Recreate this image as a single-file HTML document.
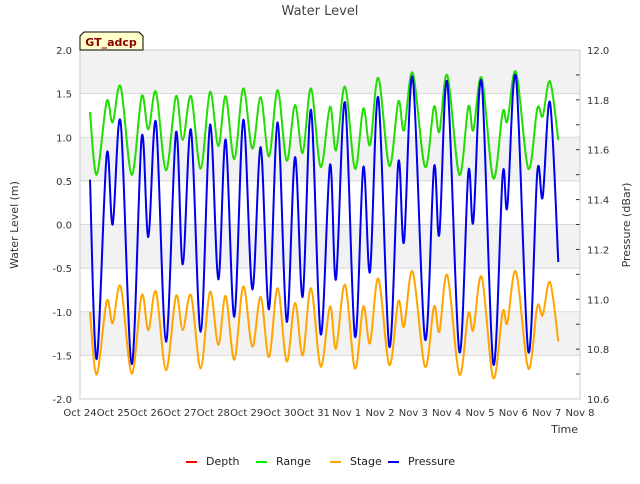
<!DOCTYPE html>
<html><head><meta charset="utf-8"><style>
body{margin:0;background:#fff;font-family:"DejaVu Sans","Liberation Sans",sans-serif}
svg text{font-family:"DejaVu Sans","Liberation Sans",sans-serif}
</style></head><body>
<svg id="chart" width="640" height="480" xmlns="http://www.w3.org/2000/svg">
<text x="320" y="15" text-anchor="middle" font-size="13" fill="#444">Water Level</text>
<g id="bands"></g>
<g id="axes"></g>
<g id="series"></g>
<g>
<path d="M80,50 L80,36 L84,32 L139,32 L143,36 L143,50 Z" fill="#ffffcc" stroke="#000" stroke-width="1"/>
<text x="111" y="46" text-anchor="middle" font-size="11" font-weight="bold" fill="#8b0000">GT_adcp</text>
</g>
<text transform="translate(18,225) rotate(-90)" text-anchor="middle" font-size="11" fill="#333">Water Level (m)</text>
<text transform="translate(630,225) rotate(-90)" text-anchor="middle" font-size="11" fill="#333">Pressure (dBar)</text>
<text x="578" y="433" text-anchor="end" font-size="11" fill="#333">Time</text>
<g id="legend"></g>
</svg>
<script>
const xLabels=["Oct 24","Oct 25","Oct 26","Oct 27","Oct 28","Oct 29","Oct 30","Oct 31","Nov 1","Nov 2","Nov 3","Nov 4","Nov 5","Nov 6","Nov 7","Nov 8"];
const yTicks=[2.0,1.5,1.0,0.5,0.0,-0.5,-1.0,-1.5,-2.0];
const y2Ticks=[12.0,11.8,11.6,11.4,11.2,11.0,10.8,10.6];
const times=[0.30,0.50,0.80,0.98,1.22,1.55,1.85,2.05,2.28,2.58,2.88,3.08,3.33,3.62,3.90,4.15,4.37,4.63,4.90,5.17,5.42,5.67,5.93,6.20,6.45,6.68,6.93,7.22,7.50,7.68,7.95,8.25,8.50,8.70,8.95,9.28,9.55,9.72,9.98,10.35,10.62,10.78,11.02,11.38,11.65,11.80,12.05,12.40,12.68,12.82,13.08,13.45,13.72,13.88,14.10,14.35];
const range=[1.29,0.57,1.41,1.17,1.58,0.57,1.47,1.09,1.52,0.62,1.47,0.97,1.47,0.64,1.52,0.90,1.47,0.75,1.56,0.87,1.46,0.78,1.54,0.73,1.37,0.82,1.56,0.66,1.35,0.85,1.58,0.64,1.33,0.91,1.68,0.67,1.41,1.08,1.74,0.66,1.35,1.06,1.71,0.57,1.35,1.08,1.68,0.53,1.29,1.18,1.75,0.64,1.33,1.24,1.64,0.97];
const stage=[-1.00,-1.72,-0.88,-1.13,-0.71,-1.71,-0.81,-1.21,-0.77,-1.67,-0.82,-1.21,-0.81,-1.65,-0.77,-1.38,-0.82,-1.55,-0.71,-1.40,-0.83,-1.52,-0.73,-1.57,-0.90,-1.50,-0.73,-1.63,-0.94,-1.42,-0.69,-1.65,-0.94,-1.36,-0.62,-1.61,-0.88,-1.17,-0.54,-1.63,-0.94,-1.23,-0.58,-1.72,-1.02,-1.21,-0.60,-1.76,-1.00,-1.13,-0.54,-1.65,-0.94,-1.04,-0.66,-1.34];
const pressure=[11.48,10.76,11.58,11.30,11.71,10.74,11.65,11.25,11.71,10.83,11.67,11.14,11.68,10.87,11.70,11.08,11.64,10.93,11.72,11.04,11.61,10.96,11.71,10.91,11.57,11.01,11.76,10.86,11.54,11.08,11.79,10.85,11.53,11.11,11.81,10.81,11.55,11.23,11.89,10.84,11.53,11.26,11.87,10.79,11.51,11.31,11.87,10.74,11.50,11.37,11.89,10.79,11.51,11.41,11.79,11.15];

const NS="http://www.w3.org/2000/svg";
const L=80,R=580,T=50,B=399;
const xs=t=>L+(R-L)*t/15;
const ys=v=>T+(B-T)*(2-v)/4;
const ys2=v=>T+(B-T)*(12-v)/1.4;
function mk(tag,attrs,parent){const e=document.createElementNS(NS,tag);for(const k in attrs)e.setAttribute(k,attrs[k]);parent.appendChild(e);return e;}
const bands=document.getElementById('bands'),axes=document.getElementById('axes'),ser=document.getElementById('series'),leg=document.getElementById('legend');
for(let i=0;i<yTicks.length-1;i++){
  const r=mk('rect',{x:L,y:ys(yTicks[i]),width:R-L,height:ys(yTicks[i+1])-ys(yTicks[i]),fill:i%2===0?'#f2f2f2':'#ffffff'},bands);
  
  
}
yTicks.forEach(v=>{
  const g=mk('line',{x1:L,x2:R,y1:ys(v),y2:ys(v),stroke:'#d8d8d8','stroke-width':1},axes);
  
  
  const t=mk('text',{x:L-8,y:ys(v)+4,'text-anchor':'end','font-size':10,fill:'#333'},axes);
  t.textContent=v.toFixed(1);
  
  
});
for(let v=12.0;v>10.55;v-=0.1){
  const tk=mk('line',{x1:R-4,x2:R,y1:ys2(v),y2:ys2(v),stroke:'#333','stroke-width':1},axes);
  
  
}
y2Ticks.forEach(v=>{
  const t=mk('text',{x:R+7,y:ys2(v)+4,'font-size':10,fill:'#333'},axes);
  t.textContent=v.toFixed(1);
  
  
});
xLabels.forEach((s,i)=>{
  const t=mk('text',{x:xs(i),y:416,'text-anchor':'middle','font-size':10,fill:'#333'},axes);
  t.textContent=s;
  
  
});
const fr=mk('rect',{x:L,y:T,width:R-L,height:B-T,fill:'none',stroke:'#ccc','stroke-width':1},axes);


function smooth(pts){
  let d='M'+pts[0][0].toFixed(1)+','+pts[0][1].toFixed(1);
  for(let i=0;i<pts.length-1;i++){
    const p0=pts[Math.max(0,i-1)],p1=pts[i],p2=pts[i+1],p3=pts[Math.min(pts.length-1,i+2)];
    const c1=[p1[0]+(p2[0]-p0[0])/6,p1[1]+(p2[1]-p0[1])/6],c2=[p2[0]-(p3[0]-p1[0])/6,p2[1]-(p3[1]-p1[1])/6];
    d+='C'+c1[0].toFixed(1)+','+c1[1].toFixed(1)+' '+c2[0].toFixed(1)+','+c2[1].toFixed(1)+' '+p2[0].toFixed(1)+','+p2[1].toFixed(1);
  }
  return d;
}
function line(vals,yf,color,name){
  const pts=times.map((t,i)=>[xs(t),yf(vals[i])]);
  const p=mk('path',{d:smooth(pts),fill:'none',stroke:color,'stroke-width':2,'stroke-linejoin':'round'},ser);
  
  
}
line(range,ys,'#22dd00','range-line');
line(stage,ys,'#ffa500','stage-line');
line(pressure,ys2,'#0000ee','pressure-line');
const legendItems=[['Depth','#ff0000',186],['Range','#00ee00',256],['Stage','#ffa500',330],['Pressure','#0000ee',388]];
legendItems.forEach(([n,c,x])=>{
  const g=mk('g',{},leg);
  
  
  mk('line',{x1:x,x2:x+11,y1:462,y2:462,stroke:c,'stroke-width':2},g);
  const t=mk('text',{x:x+20,y:465,'font-size':11,fill:'#222'},g);
  t.textContent=n;
});
</script>
</body></html>
